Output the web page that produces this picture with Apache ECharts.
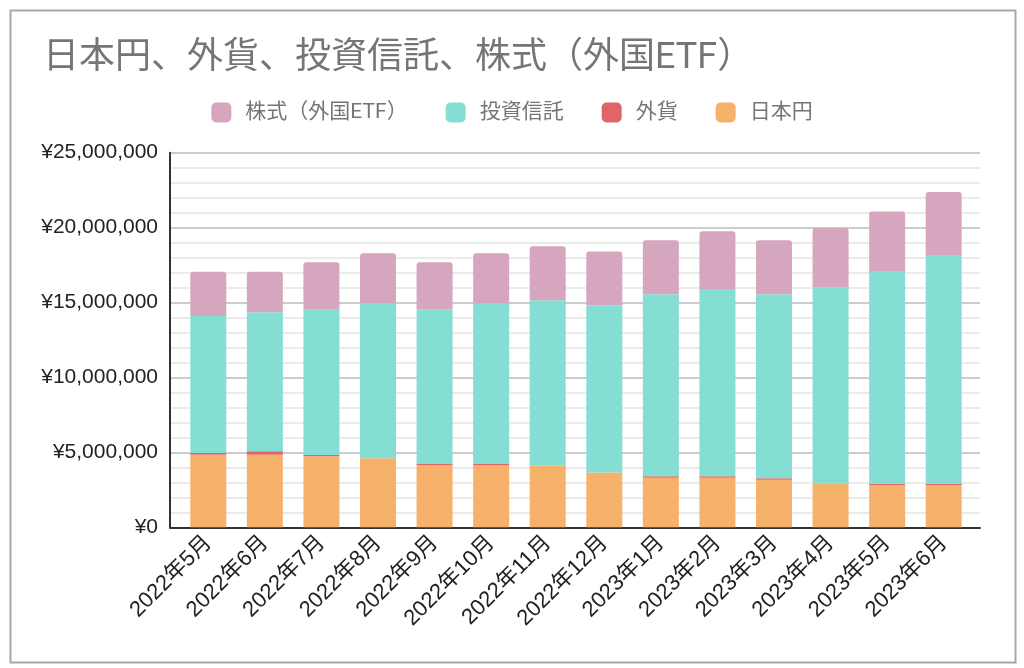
<!DOCTYPE html>
<html>
<head>
<meta charset="utf-8">
<script src="https://cdn.jsdelivr.net/npm/echarts@6/dist/echarts.min.js"></script>
<style>
html,body{margin:0;padding:0;background:#fff;}
#chart{width:1024px;height:668px;}
</style>
</head>
<body>
<div id="chart"></div>
<script>
var categories = ['2022年5月','2022年6月','2022年7月','2022年8月','2022年9月','2022年10月','2022年11月','2022年12月','2023年1月','2023年2月','2023年3月','2023年4月','2023年5月','2023年6月'];
var yen = [4850000, 4850000, 4740000, 4600000, 4140000, 4140000, 4110000, 3650000, 3310000, 3310000, 3180000, 2940000, 2800000, 2800000];
var foreignCurrency = [110000, 220000, 90000, 0, 90000, 90000, 0, 0, 90000, 90000, 90000, 0, 110000, 110000];
var funds = [9140000, 9280000, 9720000, 10350000, 10320000, 10720000, 11040000, 11170000, 12150000, 12510000, 12280000, 13080000, 14200000, 15270000];
var stocks = [2960000, 2710000, 3140000, 3340000, 3140000, 3340000, 3610000, 3580000, 3610000, 3850000, 3610000, 3960000, 3960000, 4200000];
var yTicks = [0, 5000000, 10000000, 15000000, 20000000, 25000000];

var chart = echarts.init(document.getElementById('chart'), null, {renderer:'canvas'});
var labelFont = '"Liberation Sans", Arial, "Noto Sans CJK JP", sans-serif';
var cjkFont = 'Roboto, "Noto Sans CJK JP", sans-serif';
function fmt(v){ return '¥' + Math.round(v).toLocaleString('en-US'); }

var option = {
  backgroundColor: '#ffffff',
  animation: false,
  graphic: [{
    type: 'rect', left: 8, top: 8,
    shape: {width: 1005, height: 652},
    style: {fill: 'none', stroke: '#a8a8a8', lineWidth: 2},
    silent: true
  }],
  title: {
    text: '日本円、外貨、投資信託、株式（外国ETF）',
    left: 38, top: 36,
    textStyle: {fontSize: 36, fontWeight: 'normal', color: '#757575', fontFamily: cjkFont}
  },
  legend: {
    data: ['株式（外国ETF）', '投資信託', '外貨', '日本円'],
    top: 97, left: 'center',
    itemWidth: 20, itemHeight: 20, itemGap: 38,
    icon: 'roundRect',
    textStyle: {fontSize: 21, color: '#757575', fontFamily: cjkFont, padding: [0,0,0,9]}
  },
  grid: [
    {left: 170, top: 152.7, width: 810, height: 374.6},
    {left: 180, top: 152.7, width: 792, height: 374.6}
  ],
  xAxis: [
    {type: 'category', gridIndex: 0, data: categories,
     axisLine: {show: true, lineStyle: {color: '#333', width: 2}},
     axisTick: {show: false}, axisLabel: {show: false}, splitLine: {show: false}},
    {type: 'category', gridIndex: 1, data: categories,
     axisLine: {show: false}, axisTick: {show: false},
     axisLabel: {rotate: 45, fontSize: 22, color: '#222', fontFamily: labelFont, margin: 12, interval: 0}}
  ],
  yAxis: [
    {type: 'value', gridIndex: 0, min: yTicks[0], max: yTicks[yTicks.length-1], interval: yTicks[1]-yTicks[0],
     axisLine: {show: true, lineStyle: {color: '#333', width: 2}},
     axisTick: {show: false},
     axisLabel: {fontSize: 21, color: '#222', fontFamily: labelFont, margin: 12, formatter: fmt},
     splitLine: {show: true, lineStyle: {color: '#cccccc', width: 2}},
     minorTick: {show: false, splitNumber: 5},
     minorSplitLine: {show: true, lineStyle: {color: '#ebebeb', width: 2}}},
    {type: 'value', gridIndex: 1, min: yTicks[0], max: yTicks[yTicks.length-1],
     show: false, splitLine: {show: false}}
  ],
  series: [
    {name: '日本円', type: 'bar', stack: 'total', xAxisIndex: 1, yAxisIndex: 1, data: yen,
     barWidth: 36, itemStyle: {color: '#f6b26b'}},
    {name: '外貨', type: 'bar', stack: 'total', xAxisIndex: 1, yAxisIndex: 1, data: foreignCurrency,
     barWidth: 36, itemStyle: {color: '#e06666'}},
    {name: '投資信託', type: 'bar', stack: 'total', xAxisIndex: 1, yAxisIndex: 1, data: funds,
     barWidth: 36, itemStyle: {color: '#84ded3'}},
    {name: '株式（外国ETF）', type: 'bar', stack: 'total', xAxisIndex: 1, yAxisIndex: 1, data: stocks,
     barWidth: 36, itemStyle: {color: '#d5a6bd', borderRadius: [3,3,0,0]}}
  ]
};
chart.setOption(option);
</script>
</body>
</html>
